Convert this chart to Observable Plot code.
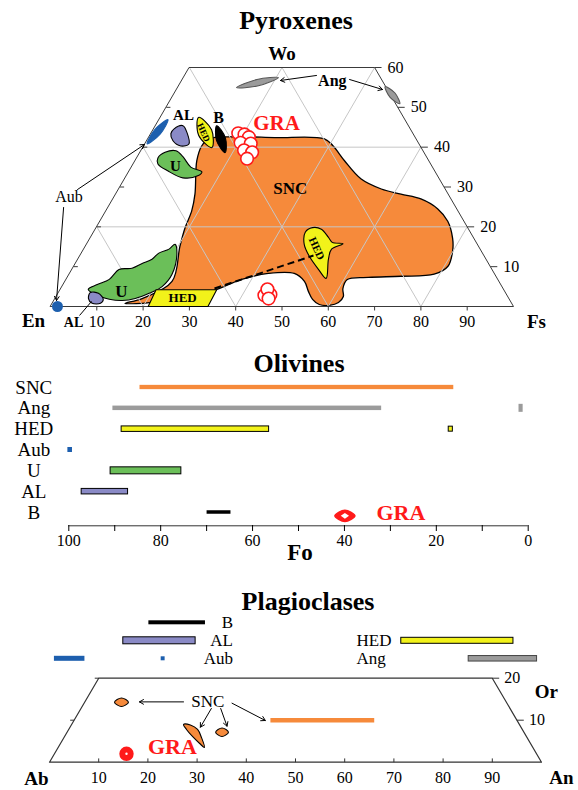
<!DOCTYPE html>
<html><head><meta charset="utf-8">
<script src="https://cdn.jsdelivr.net/npm/d3@7"></script>
<script src="https://cdn.jsdelivr.net/npm/@observablehq/plot@0.6"></script>
<style>
body{margin:0;background:#fff;}
#wrap{position:relative;width:578px;height:790px;overflow:hidden;font-family:"Liberation Serif","Times New Roman",serif;}
.title{position:absolute;font-weight:bold;transform:translate(-50%,-50%);white-space:nowrap;line-height:1;}
</style></head><body><div id="wrap"></div>
<script>
// ---------------- DATA ----------------
// Pyroxenes: outlines given as [Fs, Wo] compositions (mol%)
const pyxSNC = [[13.1,42.1],[18.5,42.6],[27.2,42.4],[38.1,42.1],[40.9,40.3],[45.2,36.6],[51.1,32.0],[56.7,29.5],[61.6,28.2],[66.5,27.0],[71.4,24.5],[75.1,21.4],[78.3,17.1],[79.9,13.9],[80.8,10.1],[78.8,8.1],[71.9,7.6],[65.0,7.3],[60.7,6.8],[60.9,4.5],[62.0,2.5],[61.7,1.0],[60.1,0.3],[57.8,0.5],[55.7,1.8],[53.8,3.8],[51.7,6.3],[48.5,8.3],[42.9,8.3],[37.9,6.8],[33.8,4.3],[29.4,2.3],[23.5,1.3],[19.4,0.8],[15.7,0.8],[18.8,2.0],[23.1,6.3],[20.4,15.1],[19.2,19.7],[18.5,24.0],[17.1,28.2],[13.3,36.6],[12.5,40.3]];
const pyxUUpper = [[4.55,37.3],[5.4,38.7],[7.55,39.1],[9.8,37.6],[12.8,35.0],[15.8,33.8],[15.4,32.8],[12.45,32.3],[8.4,34.0],[5.3,35.8]];
const pyxULower = [[6.0,4.3],[7.35,5.5],[9.3,6.8],[10.15,9.3],[12.8,9.6],[14.4,10.8],[16.0,11.85],[16.7,13.4],[18.4,14.4],[19.1,15.6],[20.6,13.4],[22.2,8.1],[21.6,5.0],[19.65,3.3],[17.3,2.0],[14.75,1.5],[11.8,1.8],[9.5,2.5]];
const pyxALUpper = [[4.4,44.6],[5.9,45.4],[7.7,43.6],[9.5,40.8],[8.0,40.3],[5.65,41.6],[4.3,43.4]];
const pyxALLower = [[6.85,3.5],[8.7,3.3],[10.5,1.8],[10.4,0.8],[8.6,0.8],[7.2,2.0]];
const pyxAubEllipse = [[0.44,40.84],[2.04,43.28],[1.93,46.9],[0.34,44.44]];
const pyxAubEn = [1.5,0];
const pyxHEDEllipse = [[8.24,47.47],[12.6,44.39],[14.9,39.9],[10.5,42.98]];
const pyxBEllipse = [[13.2,45.37],[16.6,42.35],[18.4,38.64],[15.0,41.7]];
const pyxAngEllipse1 = [[12.7,54.95],[17.2,55.43],[20.5,57.47],[16.1,57.0]];
const pyxAngEllipse2 = [[44.66,55.2],[47.6,53.6],[50.0,50.9],[47.1,52.5]];
const pyxHEDMid = [[45.7,18.65],[46.7,19.8],[48.8,19.4],[51.3,17.4],[52.8,16.1],[55.3,15.75],[53.5,14.4],[54.1,11.85],[56.0,7.06],[53.2,9.33],[49.6,12.6],[47.0,15.6]];
const pyxHEDBox = [[21.1,0],[34.0,0],[33.8,4.2],[20.7,4.2]];
const pyxHEDTie = [[33.16,4.52],[50.4,12.8]];
const pyxGRA = [[18.8,43.5],[20.3,43.2],[21.6,42.5],[20.5,41.1],[22.8,40.9],[22.2,39.2],[24.2,38.7],[23.9,37.1],[44.8,2.8],[46.0,3.0],[44.7,4.3],[46.1,2.0]];
const pyxArrowFrom = [[-8.85,29.37],[-9.6,24.86],[28.45,58.0],[36.1,56.99]];
const pyxArrowTo = [[-0.03,40.67],[0.55,1.5],[21.3,56.74],[44.46,54.48]];
const pyxALLine = [[7.4,-2.26],[8.23,1.26]];
const pyxLabels = ["SNC","U","U","AL","B","Ang","AL"];
const pyxLabelPos = [[37.0,29.6],[9.4,35.15],[13.45,3.77],[4.74,47.97],[12.56,47.45],[32.5,56.74],[6.97,-4.0]];
const pyxAxisTicks = [10,20,30,40,50,60,70,80,90];
const pyxWoTicks = [10,20,30,40,50,60];

// Olivines: Fo ranges
const olRows = ["SNC","Ang","HED","Aub","U","AL","B"];
const olBarRow = ["SNC","Ang","Ang","HED","HED","Aub","U","AL","B"];
const olBarFoHigh = [84.5,90.4,2.0,88.5,17.3,100.2,90.9,97.2,69.9];
const olBarFoLow  = [16.2,31.9,1.1,56.4,16.4,99.2,75.5,87.1,64.7];
const olGRA = 39.9;
const olTicks = [0,10,20,30,40,50,60,70,80,90,100];

// Plagioclases: An ranges
const plBarName = ["B","AL","Aub","Aub","HED","Ang"];
const plBarRow = [0,1,2,2,1,2];
const plBarAnLow  = [20.2,15.0,1.0,22.7,71.5,85.2];
const plBarAnHigh = [31.7,29.7,7.2,23.5,94.3,99.1];
const plLeftLabels = ["B","AL","Aub"];
const plRightLabels = ["HED","Ang"];
// ternary Ab-An-Or outlines, [An, Or]
const plSNCEllipse1 = [[6.07,14.29],[6.99,15.29],[8.9,14.29],[8.0,13.26]];
const plSNCEllipse2 = [[30.2,7.14],[31.0,8.14],[32.8,7.14],[32.0,6.12]];
const plSNCCrescent = [[22.75,8.98],[24.2,8.86],[26.2,7.79],[27.95,5.88],[29.75,3.5],[28.3,4.45],[26.0,6.12],[23.95,7.79]];
const plSNCBar = [[39.9,10],[61.0,10]];
const plGRA = [14.65,2.0];
const plSNCLabel = [25.0,14.36];
const plArrowFrom = [[20.06,14.36],[26.5,12.79],[28.4,12.79],[30.07,14.05]];
const plArrowTo = [[11.1,14.36],[26.5,8.33],[31.8,8.57],[38.9,9.93]];
const plGRALabel = [23.2,3.57];
const plAxisTicks = [10,20,30,40,50,60,70,80,90];
const plOrTicks = [10,20];

// ---------------- STYLE ----------------
const ORANGE="#f68a3b", GREEN="#6bbf59", PURPLE="#8a8ac6", YELLOW="#f2f21a", BLUE="#1d5fae", GREY="#9b9b9b", RED="#ff1a1a";
const FONT = "Liberation Serif, Times New Roman, serif";
const common = {width:578, style:{background:"transparent", overflow:"visible", fontFamily:FONT}};
const wrap = document.getElementById("wrap");
function place(el, top){ el.style.position="absolute"; el.style.left="0px"; el.style.top=top+"px"; wrap.appendChild(el); }
function title(txt, x, y, size){ const d=document.createElement("div"); d.className="title"; d.textContent=txt; d.style.left=x+"px"; d.style.top=y+"px"; d.style.fontSize=size+"px"; wrap.appendChild(d); }

// ternary projection: [a, b] -> cartesian x = a + b/2, y = b
const tp = p => ({x: p[0] + p[1]/2, y: p[1]});
const seg = (a, b) => ({x1: a[0] + a[1]/2, y1: a[1], x2: b[0] + b[1]/2, y2: b[1]});
const shape = (pts, o) => Plot.line(pts.map(tp), {x:"x", y:"y", curve:"catmull-rom-closed", stroke:"black", strokeWidth:1.1, ...o});
const poly = (pts, o) => Plot.line(pts.map(tp), {x:"x", y:"y", curve:"linear-closed", stroke:"black", strokeWidth:1.1, ...o});
const L = {x1:"x1", y1:"y1", x2:"x2", y2:"y2"};

// ---------------- PYROXENES ----------------
const gridSegs = [];
for (const w of [20,40]) gridSegs.push(seg([0,w],[100-w,w]));
for (const f of [20,40,60,80]) gridSegs.push(seg([f,0],[f,Math.min(60,100-f)]));
for (const e of [20,40,60,80]) { const t = Math.min(60,100-e); gridSegs.push(seg([100-e,0],[100-e-t,t])); }

const pyx = Plot.plot({
  ...common, height:340,
  x:{domain:[0,100], range:[50,513], axis:null},
  y:{domain:[0,60], range:[306,67], axis:null},
  marks:[
    shape(pyxSNC, {fill:ORANGE, strokeWidth:1.3}),
    Plot.link(gridSegs, {...L, stroke:"#c6c6c6", strokeWidth:1}),
    poly([[0,0],[100,0],[40,60],[0,60]], {stroke:"#3a3a3a", strokeWidth:1}),
    Plot.link(pyxAxisTicks, {x1:d=>d, x2:d=>d, y1:0, y2:-1, stroke:"#3a3a3a"}),
    Plot.link(pyxWoTicks.slice(0,5), {x1:d=>d/2, x2:d=>d/2+0.9, y1:d=>d, y2:d=>d, stroke:"#3a3a3a"}),
    Plot.link(pyxWoTicks, {x1:d=>100-d/2, x2:d=>100-d/2+1.5, y1:d=>d, y2:d=>d, stroke:"#3a3a3a"}),
    shape(pyxUUpper, {fill:GREEN}),
    shape(pyxULower, {fill:GREEN}),
    shape(pyxALUpper, {fill:PURPLE}),
    shape(pyxALLower, {fill:PURPLE}),
    shape(pyxAubEllipse, {fill:BLUE, stroke:BLUE}),
    shape(pyxHEDEllipse, {fill:YELLOW}),
    shape(pyxBEllipse, {fill:"black"}),
    shape(pyxAngEllipse1, {fill:GREY, stroke:"#555"}),
    shape(pyxAngEllipse2, {fill:GREY, stroke:"#555"}),
    shape(pyxHEDMid, {fill:YELLOW}),
    poly(pyxHEDBox, {fill:YELLOW}),
    Plot.link([seg(pyxHEDTie[0], pyxHEDTie[1])], {...L, stroke:"black", strokeWidth:2, strokeDasharray:"7,4"}),
    Plot.dot(pyxGRA.map(tp), {x:"x", y:"y", r:6.3, fill:"white", stroke:RED, strokeWidth:1.6}),
    Plot.dot([tp(pyxAubEn)], {x:"x", y:"y", r:5.5, fill:BLUE}),
    Plot.arrow(pyxArrowFrom.map((a,i)=>seg(a, pyxArrowTo[i])), {...L, stroke:"black", strokeWidth:1, headLength:7}),
    Plot.link([seg(pyxALLine[0], pyxALLine[1])], {...L, stroke:"black", strokeWidth:1}),
    Plot.text(pyxLabels.map((t,i)=>({t, ...tp(pyxLabelPos[i])})), {x:"x", y:"y", text:"t", fontWeight:"bold", fontSize:(d,i)=>[17,15,17,15,16,16,14][i]}),
    Plot.text([tp([-9.8,27.6])], {x:"x", y:"y", text:()=>"Aub", fontSize:16}),
    Plot.text([tp([25.84,45.95])], {x:"x", y:"y", text:()=>"GRA", fontSize:21, fontWeight:"bold", fill:RED}),
    Plot.text([tp([27.4,2.26])], {x:"x", y:"y", text:()=>"HED", fontSize:13, fontWeight:"bold"}),
    Plot.text([tp([11.2,43.69])], {x:"x", y:"y", text:()=>"HED", fontSize:9, fontWeight:"bold", rotate:66}),
    Plot.text([tp([50.2,14.56])], {x:"x", y:"y", text:()=>"HED", fontSize:11, fontWeight:"bold", rotate:65}),
    Plot.text(pyxAxisTicks, {x:d=>d, y:0, dy:15, text:d=>d, fontSize:16}),
    Plot.text(pyxWoTicks, {x:d=>100-d/2, y:d=>d, dx:13, text:d=>d, fontSize:16, textAnchor:"start"}),
    Plot.text([tp([0,0])], {x:"x", y:"y", text:()=>"En", dx:-17, dy:14, fontSize:19, fontWeight:"bold"}),
    Plot.text([tp([100,0])], {x:"x", y:"y", text:()=>"Fs", dx:23, dy:15, fontSize:19, fontWeight:"bold"}),
    Plot.text([tp([20,60])], {x:"x", y:"y", text:()=>"Wo", dy:-14, fontSize:19, fontWeight:"bold"})
  ]
});
place(pyx, 0);
title("Pyroxenes", 296, 21, 26);

// ---------------- OLIVINES ----------------
const OSTEP = 125/6;
const olStyle = {SNC:{fill:ORANGE, stroke:"none", h:4.3}, Ang:{fill:GREY, stroke:"none", h:4.5}, HED:{fill:YELLOW, stroke:"black", h:5.5}, Aub:{fill:BLUE, stroke:"none", h:5}, U:{fill:GREEN, stroke:"black", h:7}, AL:{fill:PURPLE, stroke:"black", h:5.5}, B:{fill:"black", stroke:"none", h:3.5}};
const olH = {2:8, 4:5};
const olBars = olBarRow.map((r,i)=>({r:olRows.indexOf(r), hi:olBarFoHigh[i], lo:olBarFoLow[i], fill:olStyle[r].fill, stroke:olStyle[r].stroke, h:(olH[i] ?? olStyle[r].h)}));
const gi = olRows.indexOf("B") + 3.3/OSTEP;
const lens = [[olGRA+2.18,gi],[olGRA,gi-0.27],[olGRA-2.18,gi],[olGRA,gi+0.27]];
const lensIn = [[olGRA+0.9,gi],[olGRA,gi-0.14],[olGRA-0.9,gi],[olGRA,gi+0.14]];
const ol = Plot.plot({
  ...common, height:200, marginLeft:68.3, marginRight:50.3, marginBottom:45, marginTop:5,
  x:{domain:[100,0], range:[68.3,527.7]},
  y:{domain:[0,6], range:[17,142], axis:null},
  color:{type:"identity"},
  marks:[
    Plot.ruleY([6 + 13.3/OSTEP], {stroke:"#333"}),
    Plot.axisX({ticks:olTicks, tickFormat:d=> d%20 ? "" : d, tickSize:6, tickPadding:3, fontSize:16, label:null}),
    Plot.rect(olBars, {x1:"hi", x2:"lo", y1:d=>d.r-d.h/2/OSTEP, y2:d=>d.r+d.h/2/OSTEP, fill:"fill", stroke:"stroke", strokeWidth:1}),
    Plot.line(lens, {x:d=>d[0], y:d=>d[1], curve:"catmull-rom-closed", fill:RED, stroke:RED}),
    Plot.line(lensIn, {x:d=>d[0], y:d=>d[1], curve:"linear-closed", fill:"white"}),
    Plot.text([olGRA], {x:d=>d, y:olRows.indexOf("B"), dx:56, text:()=>"GRA", fontSize:22, fontWeight:"bold", fill:RED}),
    Plot.text(olRows, {y:(d,i)=>i, text:d=>d, frameAnchor:"left", dx:-35, textAnchor:"middle", fontSize:19})
  ]
});
place(ol, 370);
title("Olivines", 299, 364, 26);
title("Fo", 300, 552, 23);

// ---------------- PLAGIOCLASES: bars ----------------
const PSTEP = 18;
const plStyle = {B:{fill:"black", stroke:"none", h:4}, AL:{fill:PURPLE, stroke:"black", h:7}, Aub:{fill:BLUE, stroke:"none", h:5}, HED:{fill:YELLOW, stroke:"black", h:6}, Ang:{fill:GREY, stroke:"#444", h:5.5}};
const plBars = plBarName.map((n,i)=>({r:plBarRow[i], lo:plBarAnLow[i], hi:plBarAnHigh[i], fill:plStyle[n].fill, stroke:plStyle[n].stroke, h:(i===3?4:plStyle[n].h)}));
const plb = Plot.plot({
  ...common, height:56,
  x:{domain:[0,100], range:[49,541], axis:null},
  y:{domain:[0,2], range:[10.3,46.3], axis:null},
  color:{type:"identity"},
  marks:[
    Plot.rect(plBars, {x1:"lo", x2:"hi", y1:d=>d.r-d.h/2/PSTEP, y2:d=>d.r+d.h/2/PSTEP, fill:"fill", stroke:"stroke", strokeWidth:1}),
    Plot.text(plLeftLabels, {x:37.3, y:(d,i)=>i, text:d=>d, textAnchor:"end", fontSize:17}),
    Plot.text(plRightLabels, {x:62.4, y:(d,i)=>i+1, text:d=>d, textAnchor:"start", fontSize:17})
  ]
});
place(plb, 612);
title("Plagioclases", 308, 602, 26);

// ---------------- PLAGIOCLASES: Ab-An-Or ----------------
const plt = Plot.plot({
  ...common, height:122,
  x:{domain:[0,100], range:[49,541], axis:null},
  y:{domain:[0,20], range:[93.7,9.7], axis:null},
  marks:[
    poly([[0,0],[100,0],[80,20],[0,20]], {stroke:"#333", strokeWidth:1.2}),
    Plot.link(plAxisTicks, {x1:d=>d, x2:d=>d, y1:0, y2:0.9, stroke:"#333"}),
    Plot.link(plOrTicks, {x1:d=>d/2, x2:d=>d/2-0.8, y1:d=>d, y2:d=>d, stroke:"#333"}),
    Plot.link(plOrTicks, {x1:d=>100-d/2, x2:d=>100-d/2+1.4, y1:d=>d, y2:d=>d, stroke:"#333"}),
    shape(plSNCEllipse1, {fill:ORANGE}),
    shape(plSNCEllipse2, {fill:ORANGE}),
    shape(plSNCCrescent, {fill:ORANGE}),
    Plot.link([seg(plSNCBar[0], plSNCBar[1])], {...L, stroke:ORANGE, strokeWidth:4.5}),
    Plot.arrow(plArrowFrom.map((a,i)=>seg(a, plArrowTo[i])), {...L, stroke:"black", strokeWidth:1, headLength:7}),
    Plot.text([tp(plSNCLabel)], {x:"x", y:"y", text:()=>"SNC", fontSize:17}),
    Plot.dot([tp(plGRA)], {x:"x", y:"y", r:4.2, fill:"white", stroke:RED, strokeWidth:6}),
    Plot.text([tp(plGRALabel)], {x:"x", y:"y", text:()=>"GRA", fontSize:22, fontWeight:"bold", fill:RED}),
    Plot.text(plAxisTicks, {x:d=>d, y:0, dy:16, text:d=>d, fontSize:16}),
    Plot.text(plOrTicks, {x:d=>100-d/2, y:d=>d, dx:12, text:d=>d, textAnchor:"start", fontSize:16}),
    Plot.text([tp([0,0])], {x:"x", y:"y", text:()=>"Ab", dx:-13, dy:17, fontSize:19, fontWeight:"bold"}),
    Plot.text([tp([100,0])], {x:"x", y:"y", text:()=>"An", dx:20, dy:16, fontSize:19, fontWeight:"bold"}),
    Plot.text([tp([80,20])], {x:"x", y:"y", text:()=>"Or", dx:54, dy:14, fontSize:19, fontWeight:"bold"})
  ]
});
place(plt, 668);
</script></body></html>
